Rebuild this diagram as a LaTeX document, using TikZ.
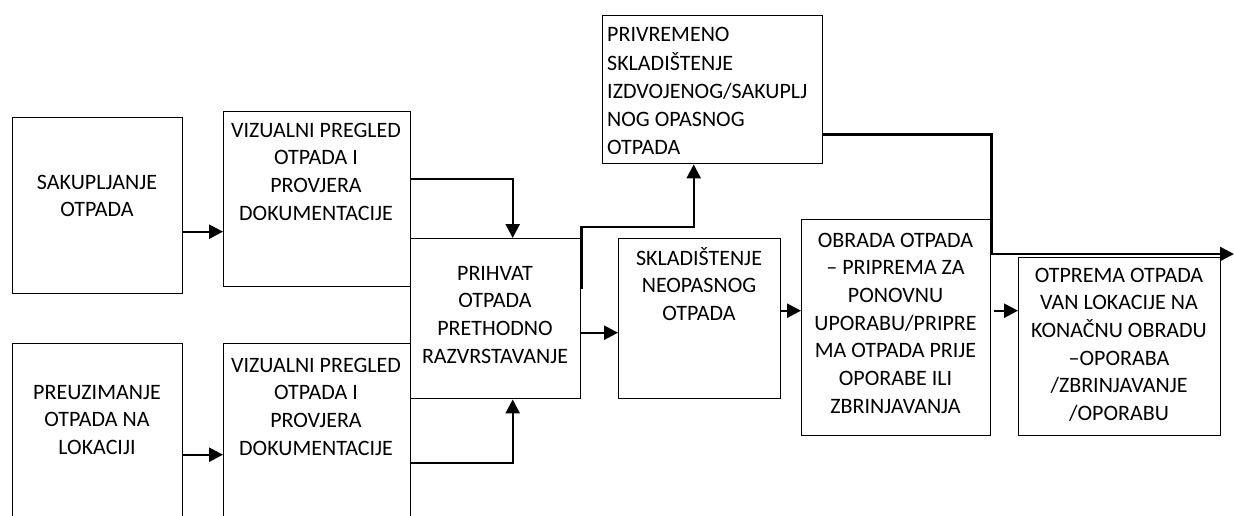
\documentclass[tikz,border=0pt]{standalone}
\usepackage{fontspec}
\setmainfont{Carlito}
\usetikzlibrary{arrows.meta}
\begin{document}
\begin{tikzpicture}[x=1pt,y=-1pt,
  box/.style={draw, line width=1.4pt, inner sep=0pt, anchor=north west},
  lbl/.style={inner sep=0pt, align=center, anchor=base, font=\fontsize{22}{27.7}\selectfont},
  lbll/.style={inner sep=0pt, align=left, anchor=base west, font=\fontsize{22}{28}\selectfont},
  arr/.style={line width=2.4pt, -{Triangle[length=14pt,width=14pt]}}]
\useasboundingbox (0,0) rectangle (1234,516);
\clip (0,0) rectangle (1234,516);
% boxes
\node[box, minimum width=170pt, minimum height=176pt] (b1) at (12,117) {};
\node[box, minimum width=187pt, minimum height=175pt] (b2) at (223,111) {};
\node[box, minimum width=170pt, minimum height=200pt] (b3) at (12,343) {};
\node[box, minimum width=187pt, minimum height=200pt] (b4) at (223,343) {};
\node[box, minimum width=170pt, minimum height=160pt] (b5) at (410,238) {};
\node[box, minimum width=162pt, minimum height=160pt] (b6) at (618,238) {};
\node[box, minimum width=220pt, minimum height=148pt] (b7) at (602,15) {};
\node[box, minimum width=189pt, minimum height=216pt] (b8) at (801,219) {};
\node[box, minimum width=202pt, minimum height=178pt] (b9) at (1018,257) {};
% labels (anchored at the baseline of their last line)
\node[lbl] (t1) at (97,216.7) {SAKUPLJANJE\\OTPADA};
\node[lbl] (t2) at (316,220.1) {VIZUALNI PREGLED\\OTPADA I\\PROVJERA\\DOKUMENTACIJE};
\node[lbl] (t3) at (97,454.4) {PREUZIMANJE\\OTPADA NA\\LOKACIJI};
\node[lbl] (t4) at (316,455.1) {VIZUALNI PREGLED\\OTPADA I\\PROVJERA\\DOKUMENTACIJE};
\node[lbl] (t5) at (495,363.1) {PRIHVAT\\OTPADA\\PRETHODNO\\RAZVRSTAVANJE};
\node[lbl] (t6) at (699,320.4) {SKLADIŠTENJE\\NEOPASNOG\\OTPADA};
\node[lbll] (t7) at (607,154) {PRIVREMENO\\SKLADIŠTENJE\\IZDVOJENOG/SAKUPLJ\\NOG OPASNOG\\OTPADA};
\node[lbl] (t8) at (895.5,413.2) {OBRADA OTPADA\\– PRIPREMA ZA\\PONOVNU\\UPORABU/PRIPRE\\MA OTPADA PRIJE\\OPORABE ILI\\ZBRINJAVANJA};
\node[lbl] (t9) at (1119,420.5) {OTPREMA OTPADA\\VAN LOKACIJE NA\\KONAČNU OBRADU\\–OPORABA\\/ZBRINJAVANJE\\/OPORABU};
\coordinate (out) at (1234,254);
% connectors
\draw[arr] ([yshift=-26pt]b1.east) -- ([yshift=-26pt]b1.east -| b2.west);
\draw[arr] ([yshift=-11pt]b3.east) -- ([yshift=-11pt]b3.east -| b4.west);
\draw[arr] ([yshift=20.5pt]b2.east) -| ([xshift=17pt]b5.north);
\draw[arr] ([yshift=-19pt]b4.east) -| ([xshift=17pt]b5.south);
\draw[arr] ([yshift=30pt]b5.east) -- ++(0,-62) -| ([xshift=-19pt]b7.south);
\draw[arr] ([yshift=-14pt]b5.east) -- ([yshift=-14pt]b6.west);
\draw[arr] ([yshift=8pt]b6.east) -- ([yshift=8pt]b6.east -| b8.west);
\draw[arr, shorten <=3pt] ([yshift=17pt]b8.east) -- ([yshift=17pt]b8.east -| b9.west);
\draw[arr] ([yshift=-45pt]b7.east) -| ([yshift=-35pt]b8.north east) -- (out);
\end{tikzpicture}
\end{document}
